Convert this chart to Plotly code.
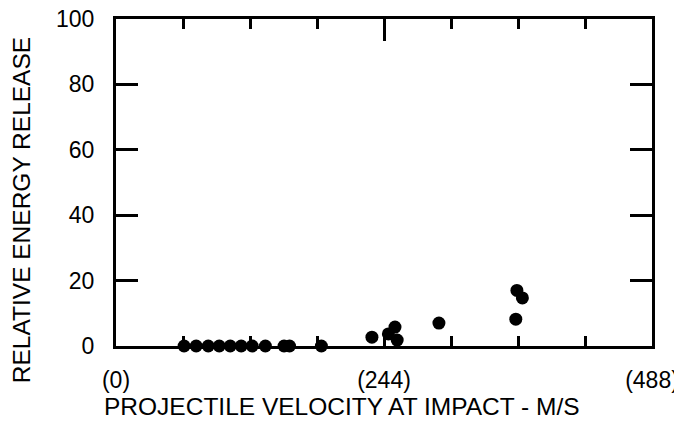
import plotly.graph_objects as go

# projectile velocity (m/s) and relative energy release
velocity = [62, 73, 84, 94, 104, 114, 124, 136, 153, 158, 187,
            233, 248, 254, 256, 294, 364, 365, 370]
energy = [0, 0, 0, 0, 0, 0, 0, 0, 0, 0, 0,
          2.7, 3.7, 5.8, 1.8, 7.0, 8.2, 17.0, 14.7]

x_tick_vals = [0, 244, 488]
x_tick_text = ["(0)", "(244)", "(488)"]
y_tick_vals = [0, 20, 40, 60, 80, 100]

fnt = "Liberation Sans, Arial, Helvetica, sans-serif"

fig = go.Figure()
fig.add_trace(go.Scatter(x=velocity, y=energy, mode="markers",
                         marker=dict(color="black", size=13),
                         cliponaxis=False, showlegend=False))

# page body has an 8px margin, so the figure is a bit smaller than the window
fig.update_layout(
    width=674, height=423,
    margin=dict(l=108, r=30, t=11, b=85),
    paper_bgcolor="white", plot_bgcolor="white",
    font=dict(family=fnt, color="black", size=23),
    xaxis=dict(range=[0, 488], tickvals=x_tick_vals, ticktext=x_tick_text,
               ticks="inside", ticklen=10, tickwidth=2.5, tickcolor="black",
               minor=dict(tick0=0, dtick=61, ticks="inside", ticklen=10,
                          tickwidth=2.5, tickcolor="black"),
               showline=True, linewidth=3, linecolor="black", mirror="ticks",
               showgrid=False, zeroline=False, layer="below traces",
               ticklabelstandoff=11, automargin=False,
               ticklabeloverflow="allow"),
    xaxis2=dict(range=[0, 488], overlaying="x", side="top", tickvals=[244],
                ticks="inside", ticklen=22, tickwidth=2.5, tickcolor="black",
                showticklabels=False, showline=False, showgrid=False,
                zeroline=False, automargin=False),
    yaxis=dict(range=[0, 100], tickvals=y_tick_vals,
               ticks="inside", ticklen=22, tickwidth=2.5, tickcolor="black",
               showline=True, linewidth=3, linecolor="black", mirror="ticks",
               showgrid=False, zeroline=False, layer="below traces",
               ticklabelstandoff=14, automargin=False,
               ticklabeloverflow="allow"),
)

# empty trace so the top axis (long tick at 244) is drawn
fig.add_trace(go.Scatter(x=[None], y=[None], xaxis="x2", showlegend=False))

fig.add_annotation(text="PROJECTILE VELOCITY AT IMPACT - M/S",
                   xref="paper", yref="paper", x=0.4216, y=-0.185,
                   xanchor="center", yanchor="middle", showarrow=False,
                   font=dict(size=24.5))
fig.add_annotation(text="RELATIVE ENERGY RELEASE",
                   xref="paper", yref="paper", x=-0.175, y=0.416,
                   xanchor="center", yanchor="middle", showarrow=False,
                   textangle=-90, font=dict(size=24.5))

fig.write_html("out.html")
